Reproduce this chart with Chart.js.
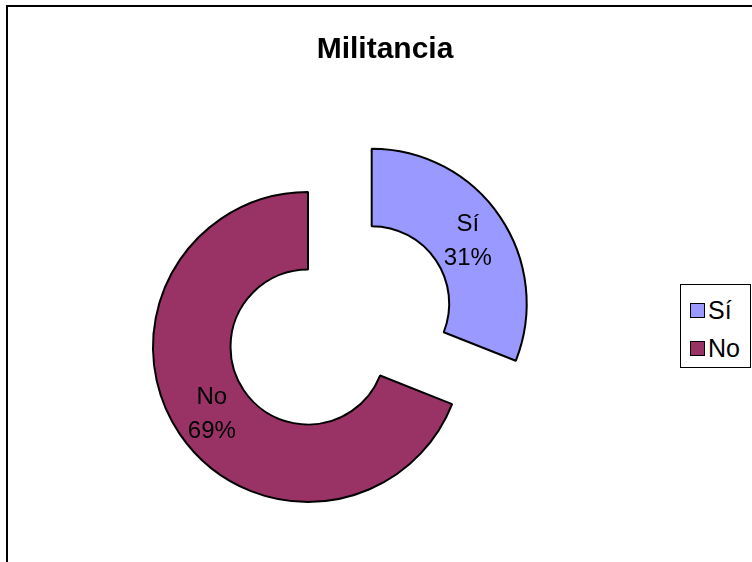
<!DOCTYPE html>
<html>
<head>
<meta charset="utf-8">
<script src="https://cdn.jsdelivr.net/npm/chart.js@4/dist/chart.umd.min.js"></script>
<style>
  html, body { margin: 0; padding: 0; background: #fff; }
  #wrap { position: relative; width: 752px; height: 562px; overflow: hidden; background: #fff; font-family: "Liberation Sans", Arial, sans-serif; }
  #frame { position: absolute; left: 6px; top: 5px; width: 900px; height: 800px; border: 2px solid #000; box-sizing: border-box; }
  #c { position: absolute; left: 0; top: 0; }
  #title { position: absolute; left: 285px; width: 200px; top: 33px; line-height: 30px; text-align: center; font-weight: bold; font-size: 30px; color: #000; }
  #legend { position: absolute; left: 680px; top: 284px; width: 71px; height: 84px; border: 1px solid #000; box-sizing: border-box; background: #fff; }
  .li { position: absolute; left: 9px; height: 26px; line-height: 26px; font-size: 25px; color: #000; white-space: nowrap; }
  .sw { display: inline-block; width: 15px; height: 15px; border: 1px solid #000; box-sizing: border-box; vertical-align: middle; margin-right: 3px; position: relative; top: -2px; }
</style>
</head>
<body>
<div id="wrap">
  <div id="frame"></div>
  <canvas id="c" width="752" height="562"></canvas>
  <div id="title"></div>
  <div id="legend"></div>
</div>
<script>
const chartTitle = "Militancia";
const categories = ["Sí", "No"];
const values = [31, 69];
const percentLabels = ["31%", "69%"];
const colors = ["#9999FF", "#993366"];
const explode = [77, 0];

document.getElementById('title').textContent = chartTitle;

const legend = document.getElementById('legend');
const legendTops = [12, 50];
categories.forEach((cat, i) => {
  const d = document.createElement('div');
  d.className = 'li';
  d.style.top = legendTops[i] + 'px';
  const s = document.createElement('span');
  s.className = 'sw';
  s.style.background = colors[i];
  d.appendChild(s);
  d.appendChild(document.createTextNode(cat));
  legend.appendChild(d);
});

function explodeShift(arc, i) {
  const p = arc.getProps(['startAngle', 'endAngle']);
  const mid = (p.startAngle + p.endAngle) / 2;
  return { dx: Math.cos(mid) * explode[i], dy: Math.sin(mid) * explode[i], mid };
}

const explodePlugin = {
  id: 'explodeSlices',
  beforeDatasetDraw(chart, args) {
    const ctx = chart.ctx;
    const meta = chart.getDatasetMeta(args.index);
    meta.data.forEach((arc, i) => {
      const s = explodeShift(arc, i);
      ctx.save();
      ctx.translate(s.dx, s.dy);
      arc.draw(ctx, chart.chartArea);
      ctx.restore();
    });
    return false;
  },
  afterDatasetsDraw(chart) {
    const ctx = chart.ctx;
    const meta = chart.getDatasetMeta(0);
    ctx.save();
    ctx.fillStyle = '#000';
    ctx.font = '24px "Liberation Sans", Arial, sans-serif';
    ctx.textAlign = 'center';
    ctx.textBaseline = 'middle';
    meta.data.forEach((arc, i) => {
      const p = arc.getProps(['x', 'y', 'innerRadius', 'outerRadius']);
      const s = explodeShift(arc, i);
      const r = (p.innerRadius + p.outerRadius) / 2;
      const cx = p.x + s.dx + Math.cos(s.mid) * r;
      const cy = p.y + s.dy + Math.sin(s.mid) * r;
      ctx.fillText(categories[i], cx, cy - 14.5);
      ctx.fillText(percentLabels[i], cx, cy + 19.5);
    });
    ctx.restore();
  }
};

new Chart(document.getElementById('c'), {
  type: 'doughnut',
  data: {
    labels: categories,
    datasets: [{
      data: values,
      backgroundColor: colors,
      borderColor: '#000',
      borderWidth: 2,
      hoverOffset: 0
    }]
  },
  options: {
    responsive: false,
    devicePixelRatio: 1,
    animation: false,
    radius: 155,
    cutout: '50%',
    layout: { padding: { left: 0, right: 136, top: 132, bottom: 0 } },
    plugins: {
      legend: { display: false },
      title: { display: false },
      tooltip: { enabled: false }
    },
    events: []
  },
  plugins: [explodePlugin]
});
</script>
</body>
</html>
